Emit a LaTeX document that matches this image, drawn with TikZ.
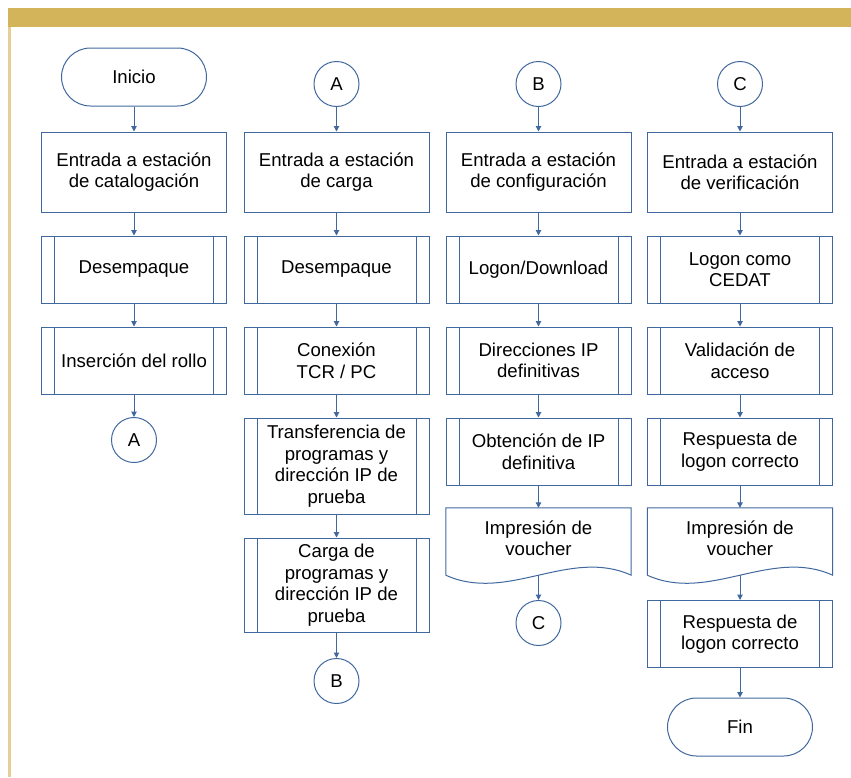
\documentclass[tikz,border=0pt]{standalone}
\usepackage{fontspec}
\setmainfont{Liberation Sans}
\usetikzlibrary{arrows.meta}
\definecolor{azul}{RGB}{65,104,158}
\definecolor{oro}{RGB}{212,180,90}
\definecolor{oroclaro}{RGB}{228,208,148}
\newcommand\hoja[1]{\draw[linea] ([yshift=-7pt]#1.south west) -- (#1.north west) -- (#1.north east) -- ([yshift=-7pt]#1.south east) .. controls ([xshift=-61.7pt,yshift=21pt]#1.south east) and ([xshift=61.7pt,yshift=-35pt]#1.south west) .. ([yshift=-7pt]#1.south west) -- cycle;}

\begin{document}
\begin{tikzpicture}[x=10pt,y=10pt]
	\tikzstyle{every node}+=[inner sep=0pt, align=center, font=\fontsize{18.6pt}{21.5pt}\selectfont]
	\tikzset{
		linea/.style={draw=azul, line width=1pt},
		proc/.style={linea, minimum width=185pt, minimum height=80pt},
		sub/.style={linea, minimum width=185pt, minimum height=67pt,
			path picture={\draw[linea] ([xshift=13pt]path picture bounding box.north west) -- ([xshift=13pt]path picture bounding box.south west) ([xshift=-13pt]path picture bounding box.north east) -- ([xshift=-13pt]path picture bounding box.south east);}},
		term/.style={linea, minimum width=145pt, minimum height=58pt, rounded corners=29pt},
		conn/.style={linea, circle, minimum size=45pt},
		doc/.style={minimum width=185pt, minimum height=60pt},
		flecha/.style={azul, line width=1pt, -{Triangle[length=5.5pt,width=5.5pt]}}
	}
	\useasboundingbox (0,0) rectangle (85.1,-77.7);
	\fill [oro] (0.8,-0.75) rectangle (85.1,-2.7);
	\fill [oroclaro] (0.8,-2.7) rectangle (1.05,-77.7);

	\node [term] (ini) at (13.4,-7.7) {Inicio};
	\node [proc] (e1) at (13.4,-17.2) {Entrada a estación\\de catalogación};
	\node [sub] (d1) at (13.4,-26.95) {Desempaque};
	\node [sub] (r1) at (13.4,-36.05) {Inserción del rollo};
	\node [conn] (a1) at (13.4,-44.0) {A};

	\node [conn] (a2) at (33.65,-8.4) {A};
	\node [proc] (e2) at (33.65,-17.2) {Entrada a estación\\de carga};
	\node [sub] (d2) at (33.65,-26.95) {Desempaque};
	\node [sub] (cx2) at (33.65,-36.05) {Conexión\\TCR / PC};
	\node [sub, minimum height=96pt] (t2) at (33.65,-46.6) {Transferencia de\\programas y\\dirección IP de\\prueba};
	\node [sub, minimum height=94pt] (c2) at (33.65,-58.5) {Carga de\\programas y\\dirección IP de\\prueba};
	\node [conn] (b2) at (33.65,-68.1) {B};

	\node [conn] (b3) at (53.85,-8.4) {B};
	\node [proc] (e3) at (53.85,-17.2) {Entrada a estación\\de configuración};
	\node [sub] (l3) at (53.85,-26.95) {Logon/Download};
	\node [sub] (dip3) at (53.85,-36.05) {Direcciones IP\\definitivas};
	\node [sub] (o3) at (53.85,-45.15) {Obtención de IP\\definitiva};
	\node [doc] (v3) at (53.85,-53.8) {Impresión de\\voucher};
	\hoja{v3}
	\coordinate (v3b) at ([yshift=-7pt]v3.south);
	\node [conn] (k3) at (53.85,-62.3) {C};

	\node [conn] (k4) at (74,-8.4) {C};
	\node [proc] (e4) at (74,-17.2) {Entrada a estación\\de verificación};
	\node [sub] (lc4) at (74,-26.95) {Logon como\\CEDAT};
	\node [sub] (va4) at (74,-36.05) {Validación de\\acceso};
	\node [sub] (rl4) at (74,-45.15) {Respuesta de\\logon correcto};
	\node [doc] (v4) at (74,-53.8) {Impresión de\\voucher};
	\hoja{v4}
	\coordinate (v4b) at ([yshift=-7pt]v4.south);
	\node [sub] (rf4) at (74,-63.4) {Respuesta de\\logon correcto};
	\node [term] (fin) at (74,-72.7) {Fin};

	\draw [flecha] (ini) -- (e1);
	\draw [flecha] (e1) -- (d1);
	\draw [flecha] (d1) -- (r1);
	\draw [flecha] (r1) -- (a1);

	\draw [flecha] (a2) -- (e2);
	\draw [flecha] (e2) -- (d2);
	\draw [flecha] (d2) -- (cx2);
	\draw [flecha] (cx2) -- (t2);
	\draw [flecha] (t2) -- (c2);
	\draw [flecha] (c2) -- (b2);

	\draw [flecha] (b3) -- (e3);
	\draw [flecha] (e3) -- (l3);
	\draw [flecha] (l3) -- (dip3);
	\draw [flecha] (dip3) -- (o3);
	\draw [flecha] (o3) -- (v3);
	\draw [flecha] (v3b) -- (k3);

	\draw [flecha] (k4) -- (e4);
	\draw [flecha] (e4) -- (lc4);
	\draw [flecha] (lc4) -- (va4);
	\draw [flecha] (va4) -- (rl4);
	\draw [flecha] (rl4) -- (v4);
	\draw [flecha] (v4b) -- (rf4);
	\draw [flecha] (rf4) -- (fin);
\end{tikzpicture}
\end{document}
